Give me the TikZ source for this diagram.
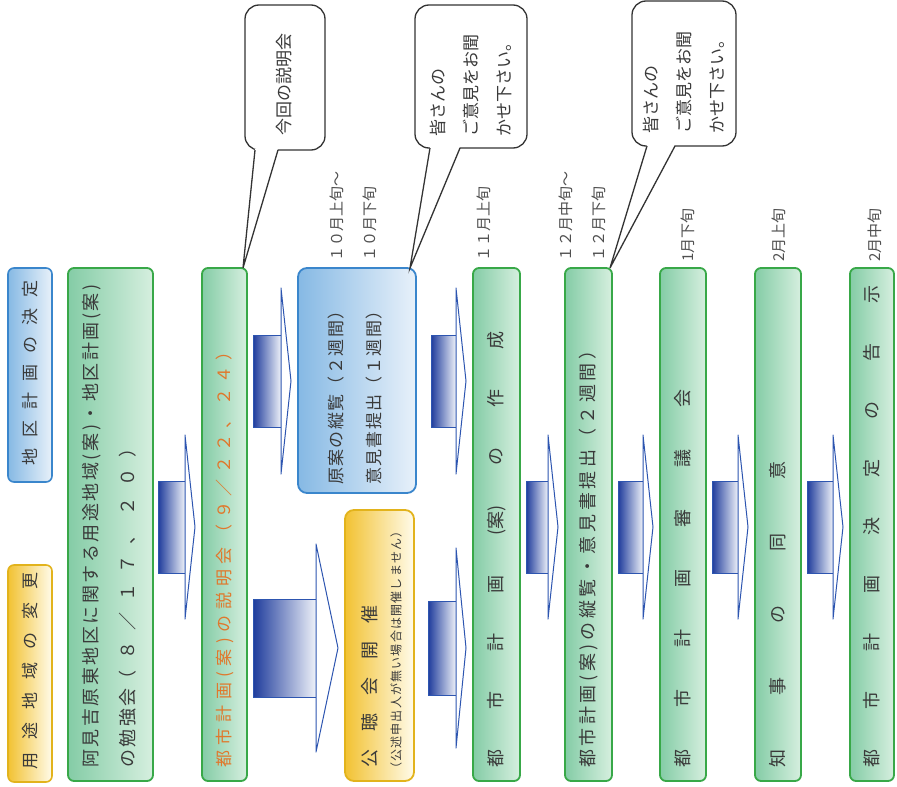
\documentclass[tikz,border=0pt]{standalone}
\usepackage{fontspec}
\setmainfont{Noto Sans CJK JP}
\usetikzlibrary{calc}
\definecolor{gB}{HTML}{38A848}
\definecolor{gL}{HTML}{84CCA6}
\definecolor{gM}{HTML}{F2FAF5}
\definecolor{gR}{HTML}{D6EFDF}
\definecolor{bB}{HTML}{3A86CC}
\definecolor{bL}{HTML}{86B9E4}
\definecolor{bM}{HTML}{C6DDF2}
\definecolor{bR}{HTML}{E8F1FA}
\definecolor{yB}{HTML}{E2B31C}
\definecolor{yL}{HTML}{F2C232}
\definecolor{yM}{HTML}{F8E6A6}
\definecolor{yR}{HTML}{FFFBEA}
\definecolor{aB}{HTML}{2D55B0}
\definecolor{aL}{HTML}{1F3C9C}
\definecolor{txt}{HTML}{3A3A3A}
\definecolor{dtxt}{HTML}{505050}
\definecolor{org}{HTML}{E0782C}
\newcommand\fs[1]{\fontsize{#1}{#1}\selectfont}
\newlength\GG
\newcommand\G{\hspace{\GG}}
\tikzset{
  gbox/.style={draw=gB,line width=1.8pt,rounded corners=6pt,left color=gL,middle color=gM,right color=gR},
  bbox/.style={draw=bB,line width=1.8pt,rounded corners=9pt,left color=bL,middle color=bM,right color=bR},
  ybox/.style={draw=yB,line width=1.8pt,rounded corners=9pt,left color=yL,middle color=yM,right color=yR},
  sbbox/.style={draw=bB,line width=1.6pt,rounded corners=6pt,left color=bL,middle color=bM,right color=bR},
  sybox/.style={draw=yB,line width=1.6pt,rounded corners=6pt,left color=yL,middle color=yM,right color=yR},
  callbox/.style={draw=black!80,line width=1.3pt,rounded corners=14pt,fill=white,anchor=north west,inner sep=0pt,outer sep=0pt},
  callline/.style={draw=black!80,line width=1.3pt,line join=miter},
  arrbody/.style={draw=aB,line width=0.8pt,left color=aL,right color=white!92!aB},
  arrhead/.style={draw=aB,line width=1pt,fill=white,line join=round},
  vtext/.style={rotate=90,anchor=west,inner sep=0pt,text=txt},
  dtext/.style={text=dtxt,font=\fs{15}},
}
\newcommand\bx[6]{\node[#2,anchor=north west,inner sep=0pt,outer sep=0pt,minimum width={(#5-#3)*1pt},minimum height={(#6-#4)*1pt}] (#1) at (#3,#4) {};}
\newcommand\vt[5]{\node[vtext,#2] (#1) at (#3,#4) {#5};}
\newcommand\blk[7]{%
  \path[arrbody] ($(#1.east|-#3)+(#7,-#4)$) rectangle ($(#2.west|-#3)+({-7-#6},#4)$);
  \draw[arrhead] ($(#2.west|-#3)+({-7-#6},-#5)$) -- ($(#2.west|-#3)+(-7,0)$) -- ($(#2.west|-#3)+({-7-#6},#5)$) -- cycle;}
\begin{document}
\begin{tikzpicture}[x=1pt,y=-1pt]
\useasboundingbox[fill=white] (0,0) rectangle (897,787);
\coordinate (yA) at (0,527);
\coordinate (yB) at (0,381);
\coordinate (yC) at (0,648);
% boxes
\bx{sb}{sbbox}{8}{268}{52}{482}
\bx{sy}{sybox}{8}{565}{52}{782}
\bx{b1}{gbox}{68}{268}{153}{781}
\bx{b2}{gbox}{202}{268}{247}{781}
\bx{bl}{bbox}{298}{268}{416}{493}
\bx{ye}{ybox}{345}{510}{414}{781}
\bx{b3}{gbox}{473}{268}{520}{781}
\bx{b4}{gbox}{565}{268}{612}{781}
\bx{b5}{gbox}{660}{268}{706}{781}
\bx{b6}{gbox}{755}{268}{801}{781}
\bx{b7}{gbox}{850}{268}{894}{781}
% arrows
\blk{b1}{b2}{yA}{46}{92}{10}{5}
\blk{b2}{bl}{yB}{46}{93}{10}{6}
\blk{b2}{ye}{yC}{49}{104}{22}{6}
\blk{bl}{b3}{yB}{46}{93}{10}{15}
\blk{ye}{b3}{yC}{47}{100}{10}{14}
\blk{b3}{b4}{yA}{46}{92}{10}{6}
\blk{b4}{b5}{yA}{46}{92}{10}{6}
\blk{b5}{b6}{yA}{46}{92}{10}{6}
\blk{b6}{b7}{yA}{46}{92}{10}{6}
% box texts
\vt{tsb}{font=\fs{17}}{30}{466}{\setlength\GG{11pt}地\G 区\G 計\G 画\G の\G 決\G 定}
\vt{tsy}{font=\fs{17}}{30}{770}{\setlength\GG{13pt}用\G 途\G 地\G 域\G の\G 変\G 更}
\vt{t1a}{font={\fs{18}\addfontfeature{LetterSpace=14}}}{92}{768}{阿見吉原東地区に関する用途地域(案)・地区計画(案)}
\vt{t1b}{font={\fs{18}\addfontfeature{LetterSpace=14}}}{128}{768}{の勉強会{\addfontfeature{LetterSpace=60}（８／１７、２０）}}
\vt{t2}{font={\fs{17}\addfontfeature{LetterSpace=33}},text=org}{225}{768}{都市計画(案)の説明会（９／２２、２４）}
\vt{tbl1}{font={\fs{17}\addfontfeature{LetterSpace=8}}}{336}{485}{原案の縦覧（２週間）}
\vt{tbl2}{font={\fs{17}\addfontfeature{LetterSpace=8}}}{374}{485}{意見書提出（１週間）}
\vt{tye1}{font=\fs{18}}{370}{768}{\setlength\GG{18pt}公\G 聴\G 会\G 開\G 催}
\vt{tye2}{font={\fs{12}\addfontfeature{LetterSpace=10}}}{396}{775}{（公述申出人が無い場合は開催しません）}
\vt{t3}{font=\fs{18}}{497}{768}{\setlength\GG{40pt}都\G 市\G 計\G 画\G (案)\G の\G 作\G 成}
\vt{t4}{font={\fs{18}\addfontfeature{LetterSpace=20}}}{589}{768}{都市計画(案)の縦覧・意見書提出（２週間）}
\vt{t5}{font=\fs{18}}{683}{768}{\setlength\GG{42pt}都\G 市\G 計\G 画\G 審\G 議\G 会}
\vt{t6}{font=\fs{18}}{778}{768}{\setlength\GG{54pt}知\G 事\G の\G 同\G 意}
\vt{t7}{font=\fs{18}}{872}{768}{\setlength\GG{40pt}都\G 市\G 計\G 画\G 決\G 定\G の\G 告\G 示}
% dates
\vt{d1}{dtext}{337}{262}{１０月上旬～}
\vt{d2}{dtext}{370}{262}{１０月下旬}
\vt{d3}{dtext}{484}{262}{１１月上旬}
\vt{d4}{dtext}{566}{262}{１２月中旬～}
\vt{d5}{dtext}{599}{262}{１２月下旬}
\vt{d6}{dtext}{688}{262}{1月下旬}
\vt{d7}{dtext}{779}{262}{2月上旬}
\vt{d8}{dtext}{875}{262}{2月中旬}
% callout 1
\node[callbox,minimum width=80pt,minimum height=145pt] (c1) at (245,5) {};
\coordinate (c1tip) at ($(b2.north east)+(-4,0)$);
\fill[white] ($(c1.south west)+(10,-1.5)$) -- (c1tip) -- ($(c1.south west)+(33,-1.5)$) -- cycle;
\draw[callline] ($(c1.south west)+(10,0)$) -- (c1tip) -- ($(c1.south west)+(33,0)$);
\vt{tc1}{font=\fs{17}}{284}{136}{今回の説明会}
% callout 2
\node[callbox,minimum width=112pt,minimum height=143pt] (c2) at (415,5) {};
\coordinate (c2tip) at ($(bl.north east)+(-6,0)$);
\fill[white] ($(c2.south west)+(15,-1.5)$) -- (c2tip) -- ($(c2.south west)+(45,-1.5)$) -- cycle;
\draw[callline] ($(c2.south west)+(15,0)$) -- (c2tip) -- ($(c2.south west)+(45,0)$);
\vt{tc2a}{font=\fs{17}}{438}{137}{皆さんの}
\vt{tc2b}{font=\fs{17}}{471}{137}{ご意見をお聞}
\vt{tc2c}{font=\fs{17}}{504}{137}{かせ下さい。}
% callout 3
\node[callbox,minimum width=104pt,minimum height=145pt] (c3) at (632,1) {};
\coordinate (c3tip) at ($(b4.north east)+(-2,0)$);
\fill[white] ($(c3.south west)+(15,-1.5)$) -- (c3tip) -- ($(c3.south west)+(43,-1.5)$) -- cycle;
\draw[callline] ($(c3.south west)+(15,0)$) -- (c3tip) -- ($(c3.south west)+(43,0)$);
\vt{tc3a}{font=\fs{17}}{651}{134}{皆さんの}
\vt{tc3b}{font=\fs{17}}{684}{134}{ご意見をお聞}
\vt{tc3c}{font=\fs{17}}{717}{134}{かせ下さい。}
\end{tikzpicture}
\end{document}
